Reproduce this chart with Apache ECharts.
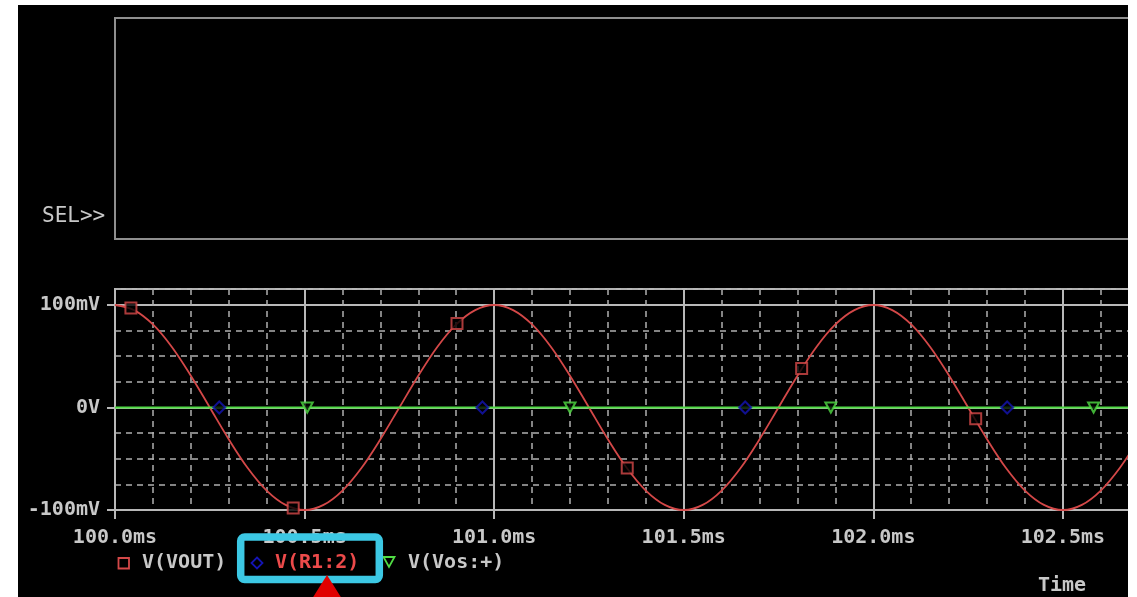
<!DOCTYPE html>
<html>
<head>
<meta charset="utf-8">
<script src="https://cdn.jsdelivr.net/npm/echarts@6/dist/echarts.min.js"></script>
<style>
html,body{margin:0;padding:0;background:#fff;}
#chart{width:1137px;height:597px;}
</style>
</head>
<body>
<div id="chart"></div>
<script>
// ---- data ----
const timeMs = [100.00,100.05,100.10,100.15,100.20,100.25,100.30,100.35,100.40,100.45,
                100.50,100.55,100.60,100.65,100.70,100.75,100.80,100.85,100.90,100.95,
                101.00,101.05,101.10,101.15,101.20,101.25,101.30,101.35,101.40,101.45,
                101.50,101.55,101.60,101.65,101.70,101.75,101.80,101.85,101.90,101.95,
                102.00,102.05,102.10,102.15,102.20,102.25,102.30,102.35,102.40,102.45,
                102.50,102.55,102.60,102.65,102.70];
const vOut = [100,95,81,59,31,0,-31,-59,-81,-95,
              -100,-95,-81,-59,-31,0,31,59,81,95,
              100,95,81,59,31,0,-31,-59,-81,-95,
              -100,-95,-81,-59,-31,0,31,59,81,95,
              100,95,81,59,31,0,-31,-59,-81,-95,
              -100,-95,-81,-59,-31];
const flatTime = [100.0, 102.7];
const vR1 = [0, 0];
const vVos = [0, 0];
// trace marker positions (ms, mV)
const vOutMarkT = [100.042, 100.470, 100.902, 101.351, 101.811, 102.270];
const vOutMarkV = [97, -98, 82, -59, 38, -11];
const vR1MarkT = [100.275, 100.969, 101.662, 102.353];
const vR1MarkV = [0, 0, 0, 0];
const vVosMarkT = [100.507, 101.200, 101.888, 102.581];
const vVosMarkV = [0, 0, 0, 0];
// tick labels
const yLabelValues = [-100, 0, 100];
const yLabelTexts = ['-100mV', '0V', '100mV'];
const xLabelUnit = 'ms';
const legendNames = ['V(VOUT)', 'V(R1:2)', 'V(Vos:+)'];

// ---- chart ----
const FONT = 'DejaVu Sans Mono';
const GRAY_TXT = '#c8c8c8';
const GRID_SOLID = '#b8b8b8';
const GRID_DASH = '#b0b0b0';
const RED = '#d44848';
const GREEN = '#50dc44';
const NAVY = '#1414b4';
const zip = (a, b) => a.map((v, i) => [v, b[i]]);

const chart = echarts.init(document.getElementById('chart'), null, {renderer: 'canvas'});
const xMin = 100, xMax = 102.677, yMin = -100, yMax = 115.6;
const labelFont = {color: GRAY_TXT, fontFamily: FONT, fontWeight: 'bold', fontSize: 20};

const option = {
  backgroundColor: '#000',
  animation: false,
  grid: {left: 115, top: 289, width: 1015, height: 221, show: true, borderColor: GRID_SOLID, borderWidth: 2, backgroundColor: 'transparent', containLabel: false},
  xAxis: [
    {type: 'value', min: xMin, max: xMax, interval: 0.1, position: 'bottom',
     axisLine: {show: false}, axisTick: {show: false}, axisLabel: {show: false},
     splitLine: {show: true, lineStyle: {color: GRID_DASH, width: 1.5, type: [6, 5]}}},
    {type: 'value', min: xMin, max: xMax, interval: 0.5, position: 'bottom',
     axisLine: {show: true, onZero: false, lineStyle: {color: GRID_SOLID, width: 2}},
     axisTick: {show: true, inside: false, length: 9, lineStyle: {color: GRID_SOLID, width: 2}},
     axisLabel: Object.assign({margin: 18, showMaxLabel: false,
       formatter: v => (Math.abs(v * 2 - Math.round(v * 2)) < 1e-6 ? v.toFixed(1) + xLabelUnit : '')}, labelFont),
     splitLine: {show: true, lineStyle: {color: GRID_SOLID, width: 2, type: 'solid'}}}
  ],
  yAxis: [
    {type: 'value', min: yMin, max: yMax, interval: 25, position: 'left',
     axisLine: {show: false}, axisTick: {show: false}, axisLabel: {show: false},
     splitLine: {show: true, lineStyle: {color: GRID_DASH, width: 1.5, type: [6, 5]}}},
    {type: 'value', min: yMin, max: yMax, interval: 100, position: 'left',
     axisLine: {show: true, onZero: false, lineStyle: {color: GRID_SOLID, width: 2}},
     axisTick: {show: true, inside: false, length: 8, customValues: yLabelValues, lineStyle: {color: GRID_SOLID, width: 2}},
     axisLabel: Object.assign({margin: 15, customValues: yLabelValues,
       formatter: v => { const i = yLabelValues.indexOf(Math.round(v * 1000) / 1000); return i >= 0 ? yLabelTexts[i] : ''; }}, labelFont),
     splitLine: {show: true, lineStyle: {color: GRID_SOLID, width: 2, type: 'solid'}}}
  ],
  series: [
    {name: legendNames[0], type: 'line', xAxisIndex: 1, yAxisIndex: 1, data: zip(timeMs, vOut),
     smooth: 0.35, showSymbol: false, lineStyle: {color: RED, width: 1.8}, z: 3},
    {name: legendNames[1], type: 'line', xAxisIndex: 1, yAxisIndex: 1, data: zip(flatTime, vR1),
     showSymbol: false, lineStyle: {color: NAVY, width: 1}, z: 3},
    {name: legendNames[2], type: 'line', xAxisIndex: 1, yAxisIndex: 1, data: zip(flatTime, vVos),
     showSymbol: false, lineStyle: {color: GREEN, width: 2.2}, z: 3},
    {name: legendNames[0] + ' marks', type: 'scatter', xAxisIndex: 1, yAxisIndex: 1, data: zip(vOutMarkT, vOutMarkV),
     symbol: 'rect', symbolSize: 11, itemStyle: {color: '#000', borderColor: RED, borderWidth: 2}, z: 5},
    {name: legendNames[1] + ' marks', type: 'scatter', xAxisIndex: 1, yAxisIndex: 1, data: zip(vR1MarkT, vR1MarkV),
     symbol: 'diamond', symbolSize: 12, itemStyle: {color: '#000', borderColor: NAVY, borderWidth: 2}, z: 5},
    {name: legendNames[2] + ' marks', type: 'scatter', xAxisIndex: 1, yAxisIndex: 1, data: zip(vVosMarkT, vVosMarkV),
     symbol: 'path://M0,0L10,0L5,10Z', symbolSize: [11, 10], itemStyle: {color: '#000', borderColor: GREEN, borderWidth: 2}, z: 5}
  ],
  graphic: [
    // upper (empty) plot box and its label
    {type: 'rect', shape: {x: 115, y: 18, width: 1050, height: 221}, style: {fill: 'none', stroke: '#8f8f8f', lineWidth: 2}, z: 10},
    {type: 'text', x: 42, y: 217, style: {text: 'SEL>>', fill: GRAY_TXT, font: '21px "DejaVu Sans Mono"', verticalAlign: 'middle'}, z: 10},
    // legend
    {type: 'rect', shape: {x: 118.5, y: 558, width: 10.5, height: 10.5}, style: {fill: 'none', stroke: RED, lineWidth: 1.8}, z: 10},
    {type: 'text', x: 142, y: 563, style: {text: legendNames[0], fill: GRAY_TXT, font: 'bold 20px "DejaVu Sans Mono"', verticalAlign: 'middle'}, z: 10},
    {type: 'polygon', shape: {points: [[257, 557.5], [262.5, 563], [257, 568.5], [251.5, 563]]}, style: {fill: 'none', stroke: NAVY, lineWidth: 1.8}, z: 10},
    {type: 'text', x: 275, y: 563, style: {text: legendNames[1], fill: '#ec4a4a', font: 'bold 20px "DejaVu Sans Mono"', verticalAlign: 'middle'}, z: 10},
    {type: 'polygon', shape: {points: [[383.5, 557], [394.5, 557], [389, 567]]}, style: {fill: 'none', stroke: GREEN, lineWidth: 1.8}, z: 10},
    {type: 'text', x: 408, y: 563, style: {text: legendNames[2], fill: GRAY_TXT, font: 'bold 20px "DejaVu Sans Mono"', verticalAlign: 'middle'}, z: 10},
    // axis title
    {type: 'text', x: 1038, y: 586, style: {text: 'Time', fill: GRAY_TXT, font: 'bold 20px "DejaVu Sans Mono"', verticalAlign: 'middle'}, z: 10},
    // annotation: cyan highlight box and red pointer
    {type: 'rect', shape: {x: 240.7, y: 537, width: 138.6, height: 42.5, r: 4}, style: {fill: 'none', stroke: '#3cc8e4', lineWidth: 7.5}, z: 20},
    {type: 'polygon', shape: {points: [[327, 575], [305, 610], [349, 610]]}, style: {fill: '#e00000'}, z: 20},
    // white page margins around the cropped screenshot
    {type: 'rect', shape: {x: 0, y: 0, width: 18, height: 597}, style: {fill: '#fff'}, z: 100},
    {type: 'rect', shape: {x: 0, y: 0, width: 1137, height: 5}, style: {fill: '#fff'}, z: 100},
    {type: 'rect', shape: {x: 1128, y: 0, width: 9, height: 597}, style: {fill: '#fff'}, z: 100}
  ]
};
chart.setOption(option);
</script>
</body>
</html>
